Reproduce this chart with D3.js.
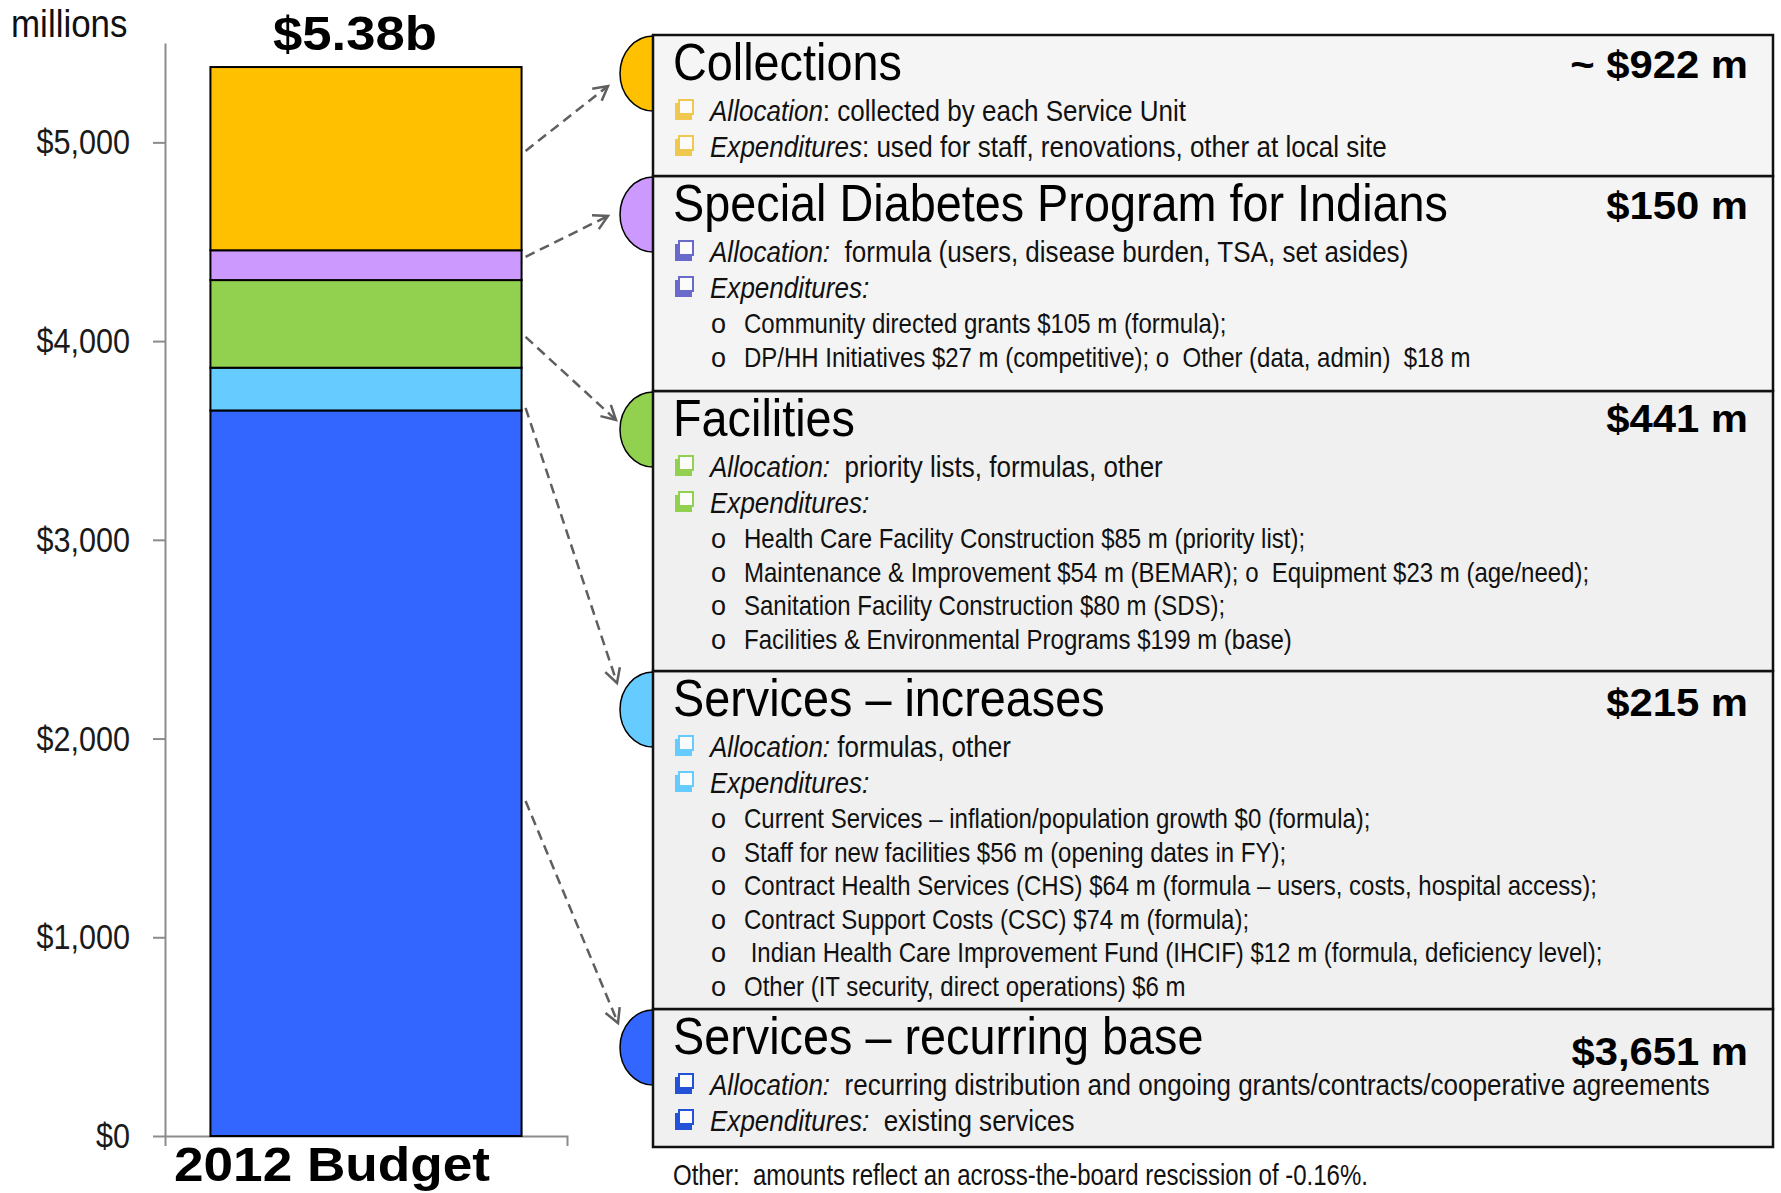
<!DOCTYPE html>
<html>
<head>
<meta charset="utf-8">
<script src="https://cdn.jsdelivr.net/npm/d3@7"></script>
<style>
  body { margin: 0; background: #fff; }
  svg text { font-family: "Liberation Sans", Arial, sans-serif; white-space: pre; }
</style>
</head>
<body>
<div id="chart"></div>
<script>
// ---- data ----
const categories = ['Services – recurring base', 'Services – increases', 'Facilities', 'Special Diabetes Program for Indians', 'Collections'];
const values = [3651, 215, 441, 150, 922];
const segmentColors = ['#3366ff', '#66ccff', '#92d050', '#cc99ff', '#ffc000'];
const bulletColors = ['#2352d8', '#66ccff', '#92d050', '#6a6acc', '#f0c850'];
const amountLabels = ['$3,651 m', '$215 m', '$441 m', '$150 m', '~ $922 m'];
const barLabel = '2012 Budget';
const yTicks = [0, 1000, 2000, 3000, 4000, 5000];
// where each dashed arrow leaves the bar (millions)
const arrowAnchors = [1686, 3664, 4021, 4424, 4957];

const allocations = [
    ['Allocation:', '  recurring distribution and ongoing grants/contracts/cooperative agreements'],
    ['Allocation:', ' formulas, other'],
    ['Allocation:', '  priority lists, formulas, other'],
    ['Allocation:', '  formula (users, disease burden, TSA, set asides)'],
    ['Allocation', ': collected by each Service Unit']
];
const expenditures = [
    ['Expenditures:', '  existing services'],
    ['Expenditures:', ''],
    ['Expenditures:', ''],
    ['Expenditures:', ''],
    ['Expenditures', ': used for staff, renovations, other at local site']
];
const subItems = [
    [],
    ['Current Services – inflation/population growth $0 (formula);',
     'Staff for new facilities $56 m (opening dates in FY);',
     'Contract Health Services (CHS) $64 m (formula – users, costs, hospital access);',
     'Contract Support Costs (CSC) $74 m (formula);',
     ' Indian Health Care Improvement Fund (IHCIF) $12 m (formula, deficiency level);',
     'Other (IT security, direct operations) $6 m'],
    ['Health Care Facility Construction $85 m (priority list);',
     'Maintenance & Improvement $54 m (BEMAR); o  Equipment $23 m (age/need);',
     'Sanitation Facility Construction $80 m (SDS);',
     'Facilities & Environmental Programs $199 m (base)'],
    ['Community directed grants $105 m (formula);',
     'DP/HH Initiatives $27 m (competitive); o  Other (data, admin)  $18 m'],
    []
];
const footnote = 'Other:  amounts reflect an across-the-board rescission of -0.16%.';

// ---- layout ----
const width = 1781, height = 1193;
const panelLeft = 653, panelRight = 1773, panelBottom = 1147;
const panelTops = [1009, 671, 391, 176, 35];
const panelFills = ['#f0f0f0', '#f0f0f0', '#f0f0f0', '#f4f4f4', '#f5f5f5'];
const amountOffsets = [56, 45, 41, 43, 43];
const arrowEnds = [[618, 1023], [617, 683], [616, 420], [608, 216], [608, 86]];

const svg = d3.select('#chart').append('svg')
    .attr('width', width)
    .attr('height', height);

const y = d3.scaleLinear().domain([0, 5500]).range([1136, 43]);
const x = d3.scaleBand().domain([barLabel]).range([165, 567]).paddingInner(0).paddingOuter(0.146);

const row = Object.fromEntries(categories.map((c, i) => [c, values[i]]));
row.label = barLabel;
const series = d3.stack().keys(categories)([row]);

// scaled text helper (the source slide is stretched sideways, fonts are narrow)
function txt(g, tx, ty, size, sx, opts = {}) {
    return g.append('text')
        .attr('transform', `translate(${tx},${ty}) scale(${sx},1)`)
        .attr('font-size', size)
        .attr('font-weight', opts.bold ? 'bold' : null)
        .attr('text-anchor', opts.anchor || 'start')
        .attr('fill', opts.fill || '#111');
}

// ---- axes ----
const gy = svg.append('g')
    .attr('transform', 'translate(165,0)')
    .call(d3.axisLeft(y).tickValues(yTicks).tickSize(12).tickSizeOuter(0)
        .tickFormat(d => '$' + d3.format(',')(d)));
gy.selectAll('text')
    .attr('x', -35 / 0.85)
    .attr('transform', 'scale(0.85,1)')
    .attr('font-size', 36)
    .attr('fill', '#1a1a1a');

const gx = svg.append('g')
    .attr('transform', 'translate(0,1136)')
    .call(d3.axisBottom(x).tickSizeInner(0).tickSizeOuter(10).tickPadding(0));
gx.selectAll('text')
    .attr('y', 45).attr('dy', 0)
    .attr('x', -34 / 1.085)
    .attr('transform', 'scale(1.085,1)')
    .attr('font-size', 49)
    .attr('font-weight', 'bold')
    .attr('fill', '#000');

svg.selectAll('.domain, .tick line')
    .attr('stroke', '#8c8c8c')
    .attr('stroke-width', 2);

txt(svg, 11, 37, 38, 0.92).text('millions');

// ---- stacked bar ----
svg.append('g').selectAll('rect')
    .data(series)
    .join('rect')
    .attr('x', x(barLabel))
    .attr('width', x.bandwidth())
    .attr('y', d => y(d[0][1]))
    .attr('height', d => y(d[0][0]) - y(d[0][1]))
    .attr('fill', (d, i) => segmentColors[i])
    .attr('stroke', '#000')
    .attr('stroke-width', 2);

const total = d3.sum(values);
txt(svg, x(barLabel) + x.bandwidth() / 2 - 11, 50, 49, 1.075, { bold: true, anchor: 'middle', fill: '#000' })
    .text('$' + (total / 1000).toFixed(2) + 'b');

// ---- dashed arrows ----
const arrowG = svg.append('g');
const startX = x(barLabel) + x.bandwidth() + 4;
arrowAnchors.forEach((v, i) => {
    const x0 = startX, y0 = y(v);
    const [x1, y1] = arrowEnds[i];
    arrowG.append('line')
        .attr('x1', x0).attr('y1', y0).attr('x2', x1).attr('y2', y1)
        .attr('stroke', '#5f5f5f').attr('stroke-width', 2.5)
        .attr('stroke-dasharray', '10,6');
    const a = Math.atan2(y1 - y0, x1 - x0), L = 16, w = 0.5;
    const p1 = [x1 - L * Math.cos(a - w), y1 - L * Math.sin(a - w)];
    const p2 = [x1 - L * Math.cos(a + w), y1 - L * Math.sin(a + w)];
    arrowG.append('path')
        .attr('d', `M${p1}L${x1},${y1}L${p2}`)
        .attr('fill', 'none').attr('stroke', '#5f5f5f').attr('stroke-width', 2.5);
});

// ---- panels ----
function bullet(g, bx, by, color) {
    g.append('rect').attr('x', bx).attr('y', by - 18).attr('width', 17).attr('height', 17).attr('fill', color);
    g.append('rect').attr('x', bx + 4).attr('y', by - 21).attr('width', 14).attr('height', 14)
        .attr('fill', '#fbfbfb').attr('stroke', color).attr('stroke-width', 2);
}

categories.forEach((cat, i) => {
    const top = panelTops[i];
    const bottom = i === 0 ? panelBottom : panelTops[i - 1];
    const g = svg.append('g');

    g.append('path')
        .attr('d', `M${panelLeft},${top + 1} A33,37.5 0 0 0 ${panelLeft},${top + 76} Z`)
        .attr('fill', segmentColors[i])
        .attr('stroke', '#000').attr('stroke-width', 1.5);

    g.append('rect')
        .attr('x', panelLeft).attr('y', top)
        .attr('width', panelRight - panelLeft).attr('height', bottom - top)
        .attr('fill', panelFills[i])
        .attr('stroke', '#111').attr('stroke-width', 2.5);

    txt(g, 673, top + 45, 52, 0.9, { fill: '#000' }).text(cat);
    txt(g, 1748, top + amountOffsets[i], 38, 1.1, { bold: true, anchor: 'end', fill: '#000' }).text(amountLabels[i]);

    [[allocations[i], 86], [expenditures[i], 122]].forEach(([parts, off]) => {
        bullet(g, 675, top + off, bulletColors[i]);
        const t = txt(g, 710, top + off, 30, 0.868);
        t.append('tspan').attr('font-style', 'italic').text(parts[0]);
        t.append('tspan').text(parts[1]);
    });

    subItems[i].forEach((s, k) => {
        const by = top + 157 + k * 33.6;
        txt(g, 711, by, 27, 1).text('o');
        txt(g, 744, by, 28.5, 0.842).text(s);
    });
});

txt(svg, 673, 1185, 29, 0.828).text(footnote);
</script>
</body>
</html>
